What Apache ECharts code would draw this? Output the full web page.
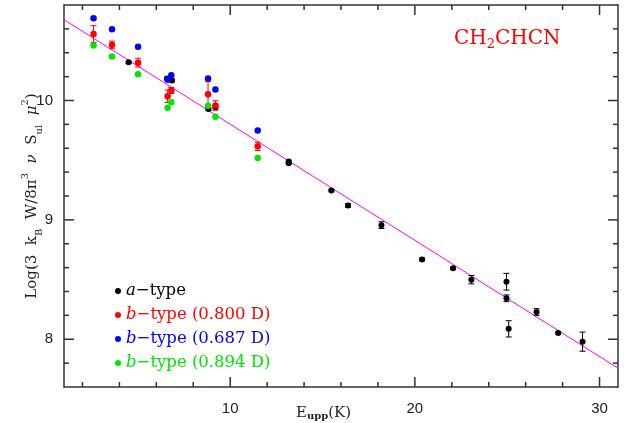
<!DOCTYPE html>
<html>
<head>
<meta charset="utf-8">
<script src="https://cdn.jsdelivr.net/npm/echarts@6/dist/echarts.min.js"></script>
<style>html,body{margin:0;padding:0;background:#fff;}#c{width:633px;height:423px;background:#fff;}</style>
</head>
<body>
<div id="c"></div>
<script>
// ---- data ----
// [Eupp (K), log value, error]
const aType = [
  [4.50, 10.320, 0.010],
  [6.58, 10.184, 0.010],
  [6.85, 10.167, 0.010],
  [8.82, 9.928, 0.010],
  [9.20, 9.945, 0.015],
  [13.17, 9.490, 0.010],
  [13.17, 9.475, 0.010],
  [15.48, 9.246, 0.010],
  [16.38, 9.120, 0.015],
  [18.19, 8.956, 0.028],
  [20.39, 8.669, 0.012],
  [22.07, 8.594, 0.010],
  [23.06, 8.499, 0.035],
  [24.96, 8.482, 0.070],
  [24.96, 8.343, 0.028],
  [25.08, 8.087, 0.068],
  [26.59, 8.228, 0.028],
  [27.76, 8.053, 0.010],
  [29.08, 7.980, 0.080]
];
const bType800 = [
  [2.60, 10.557, 0.070],
  [3.60, 10.465, 0.032],
  [5.01, 10.317, 0.037],
  [6.61, 10.036, 0.052],
  [6.81, 10.084, 0.025],
  [8.80, 10.053, 0.105],
  [9.20, 9.958, 0.040],
  [11.49, 9.616, 0.035]
];
const bType687 = [
  [2.60, 10.690], [3.60, 10.596], [5.01, 10.451], [6.61, 10.173],
  [6.81, 10.212], [8.80, 10.184], [9.20, 10.092], [11.49, 9.749]
];
const bType894 = [
  [2.60, 10.460], [3.60, 10.368], [5.01, 10.220], [6.61, 9.939],
  [6.81, 9.986], [8.80, 9.956], [9.20, 9.864], [11.49, 9.518]
];
const fitLine = [[1, 10.677], [31, 7.758]];
const seriesNames = ['a\u2212type', 'b\u2212type (0.800 D)', 'b\u2212type (0.687 D)', 'b\u2212type (0.894 D)'];
const seriesColors = ['#000000', '#ff0000', '#0000ff', '#00e600'];
const xRange = [1, 31];
const yRange = [7.6, 10.8];
const xMinorTicks = [2, 4, 6, 8, 10, 12, 14, 16, 18, 20, 22, 24, 26, 28, 30];
const xMajorTicks = [10, 20, 30];
const yMinorTicks = [7.8, 8.0, 8.2, 8.4, 8.6, 8.8, 9.0, 9.2, 9.4, 9.6, 9.8, 10.0, 10.2, 10.4, 10.6];
const yMajorTicks = [8, 9, 10];

// ---- chart ----
const frame = '#333';
function mkAxis(pos, range, labels) {
  return {
    type: 'value', position: pos, min: range[0], max: range[1],
    axisLine: {show: true, onZero: false, lineStyle: {color: frame, width: 1.5}},
    axisTick: {show: false},
    axisLabel: labels ? {show: true, customValues: labels, margin: (pos === 'left' ? 11 : 14), color: '#222', fontSize: 15, fontFamily: 'Liberation Sans'} : {show: false},
    splitLine: {show: false}
  };
}
function errRender(color) {
  return function (params, api) {
    const x = api.value(0), y = api.value(1), e = api.value(2);
    const t = api.coord([x, y + e]), b = api.coord([x, y - e]);
    const hw = 3;
    return {type: 'group', children: [
      {type: 'line', shape: {x1: t[0], y1: t[1], x2: b[0], y2: b[1]}, style: {stroke: color, lineWidth: 1}},
      {type: 'line', shape: {x1: t[0] - hw, y1: t[1], x2: t[0] + hw, y2: t[1]}, style: {stroke: color, lineWidth: 1}},
      {type: 'line', shape: {x1: b[0] - hw, y1: b[1], x2: b[0] + hw, y2: b[1]}, style: {stroke: color, lineWidth: 1}}
    ]};
  };
}
const serif = 'DejaVu Serif';
const chart = echarts.init(document.getElementById('c'));
const legendData = seriesNames.map((n, i) => ({
  name: n,
  textStyle: {color: seriesColors[i], rich: {i: {fontStyle: 'italic', color: seriesColors[i], fontFamily: serif, fontSize: 16.5, lineHeight: 24}}}
}));
const textGraphics = [
  {type: 'text', x: 454, y: 39, z: 50, style: {
    text: '{a|CH}{s|2}{a|CHCN}', fill: '#ff0000', textVerticalAlign: 'middle', textAlign: 'left',
    rich: {a: {fontFamily: serif, fontSize: 20, lineHeight: 24, fill: '#ff0000'}, s: {fontFamily: serif, fontSize: 13, lineHeight: 13, verticalAlign: 'bottom', fill: '#ff0000'}}
  }},
  {type: 'text', x: 323.5, y: 413, z: 50, style: {
    text: '{a|E}{s|upp}{a|(K)}', fill: '#222', textVerticalAlign: 'middle', textAlign: 'center',
    rich: {a: {fontFamily: serif, fontSize: 15, lineHeight: 17, fill: '#222'}, s: {fontFamily: serif, fontSize: 10, fontWeight: 'bold', lineHeight: 10, verticalAlign: 'bottom', fill: '#222'}}
  }},
  {type: 'text', x: 32, y: 196, z: 50, rotation: Math.PI / 2, style: {
    text: '{a|Log(3  k}{s|B}{a|  W/8\u03c0}{p|3}{a|  }{g|\u03bd}{a|  S}{s|ul}{a|  }{g|\u03bc}{p|2}{a|)}',
    fill: '#222', textVerticalAlign: 'middle', textAlign: 'center',
    rich: {
      a: {fontFamily: serif, fontSize: 15, lineHeight: 24, fill: '#222'},
      g: {fontFamily: serif, fontSize: 15, fontStyle: 'italic', lineHeight: 24, fill: '#222'},
      s: {fontFamily: serif, fontSize: 10, lineHeight: 10, verticalAlign: 'bottom', fill: '#222'},
      p: {fontFamily: serif, fontSize: 10, lineHeight: 10, verticalAlign: 'top', fill: '#222'}
    }
  }}
];
chart.setOption({
  animation: false,
  grid: {left: 64, right: 15, top: 5, bottom: 36},
  xAxis: [mkAxis('bottom', xRange, xMajorTicks), mkAxis('top', xRange, null)],
  yAxis: [mkAxis('left', yRange, yMajorTicks), mkAxis('right', yRange, null)],
  legend: {
    orient: 'vertical', left: 115, top: 279, padding: 0, itemGap: 0,
    icon: 'circle', itemWidth: 6, itemHeight: 6,
    textStyle: {fontFamily: serif, fontSize: 16.5, lineHeight: 24},
    formatter: n => n.replace(/^([ab])/, '{i|$1}'),
    data: legendData
  },
  series: [
    {type: 'line', data: fitLine, symbol: 'none', silent: true, lineStyle: {color: '#ff00ff', width: 1}, z: 1},
    {type: 'custom', data: aType, renderItem: errRender('#000'), encode: {x: 0, y: 1}, silent: true, z: 2},
    {type: 'custom', data: bType800, renderItem: errRender('#ff0000'), encode: {x: 0, y: 1}, silent: true, z: 2},
    {type: 'scatter', name: seriesNames[0], data: aType.map(d => [d[0], d[1]]), symbolSize: 6, itemStyle: {color: seriesColors[0], opacity: 1}, z: 3},
    {type: 'scatter', name: seriesNames[1], data: bType800.map(d => [d[0], d[1]]), symbolSize: 6.5, itemStyle: {color: seriesColors[1], opacity: 1}, z: 3},
    {type: 'scatter', name: seriesNames[2], data: bType687, symbolSize: 6.5, itemStyle: {color: seriesColors[2], opacity: 1}, z: 3},
    {type: 'scatter', name: seriesNames[3], data: bType894, symbolSize: 6.5, itemStyle: {color: seriesColors[3], opacity: 1}, z: 3}
  ],
  graphic: textGraphics
});

// frame ticks on all four sides, positioned through the chart's own axis scales
const tickGraphics = [];
const toPx = p => chart.convertToPixel({xAxisIndex: 0, yAxisIndex: 0}, p);
xMinorTicks.forEach(v => {
  const len = xMajorTicks.indexOf(v) >= 0 ? 10 : 5;
  const b = toPx([v, yRange[0]]), t = toPx([v, yRange[1]]);
  tickGraphics.push({type: 'line', z: 100, shape: {x1: b[0], y1: b[1], x2: b[0], y2: b[1] - len}, style: {stroke: frame, lineWidth: 1.5}});
  tickGraphics.push({type: 'line', z: 100, shape: {x1: t[0], y1: t[1], x2: t[0], y2: t[1] + len}, style: {stroke: frame, lineWidth: 1.5}});
});
yMinorTicks.forEach(v => {
  const len = yMajorTicks.some(m => Math.abs(m - v) < 1e-6) ? 10 : 5;
  const l = toPx([xRange[0], v]), r = toPx([xRange[1], v]);
  tickGraphics.push({type: 'line', z: 100, shape: {x1: l[0], y1: l[1], x2: l[0] + len, y2: l[1]}, style: {stroke: frame, lineWidth: 1.5}});
  tickGraphics.push({type: 'line', z: 100, shape: {x1: r[0], y1: r[1], x2: r[0] - len, y2: r[1]}, style: {stroke: frame, lineWidth: 1.5}});
});
chart.setOption({graphic: textGraphics.concat(tickGraphics)});
</script>
</body>
</html>
